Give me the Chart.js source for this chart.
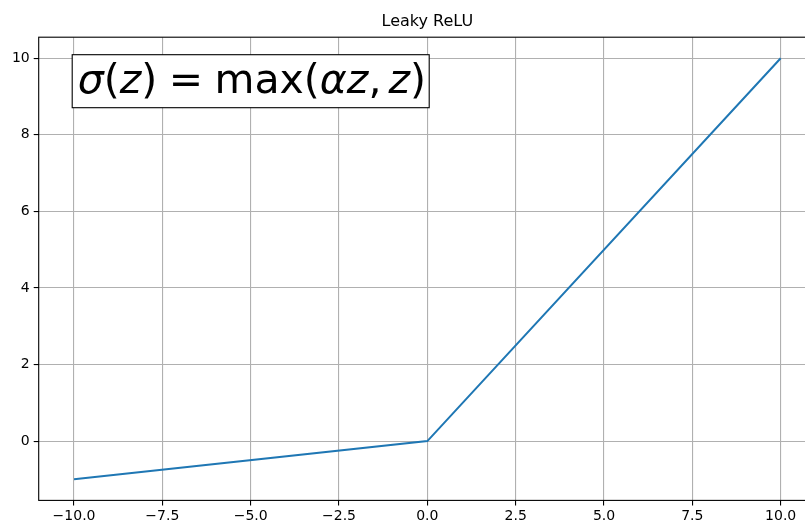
<!DOCTYPE html>
<html>
<head>
<meta charset="utf-8">
<script src="https://cdn.jsdelivr.net/npm/chart.js@4"></script>
<style>
  html,body{margin:0;padding:0;background:#fff;overflow:hidden;}
  #wrap{position:absolute;left:0;top:0;width:816px;height:523px;}
</style>
</head>
<body>
<div id="wrap"><canvas id="c" width="816" height="523"></canvas></div>
<script>
// data (alpha = 0.1)
const zValues = [-10, 0, 10];
const sigmaValues = [-1, 0, 10];
const xTicks = [-10, -7.5, -5, -2.5, 0, 2.5, 5, 7.5, 10];
const yTicks = [0, 2, 4, 6, 8, 10];
const xRange = [-11, 11];
const yRange = [-1.55, 10.55];
const titleText = 'Leaky ReLU';

const FONT = '"DejaVu Sans", sans-serif';
const minus = s => s.replace('-', '\u2212');

// formula label in a white box, like the matplotlib text bbox
const formulaParts = [
  {t:'σ', it:true}, {t:'('}, {t:'z', it:true}, {t:')'}, {gap:0.28},
  {t:'='}, {gap:0.28}, {t:'max'}, {t:'('}, {t:'α', it:true}, {t:'z', it:true},
  {t:','}, {gap:0.17}, {t:'z', it:true}, {t:')'}
];
const formulaBox = {
  id:'formulaBox',
  afterDraw(chart){
    const {ctx, chartArea} = chart;
    const size = 41;
    const x0 = chartArea.left + 33.5, y0 = chartArea.top + 17.5;
    const w = 357, h = 53;
    ctx.save();
    ctx.fillStyle = '#fff';
    ctx.fillRect(x0, y0, w, h);
    ctx.strokeStyle = '#000';
    ctx.lineWidth = 1.1;
    ctx.strokeRect(x0, y0, w, h);
    ctx.fillStyle = '#000';
    ctx.textBaseline = 'alphabetic';
    let x = x0 + 5.5;
    const base = y0 + 38;
    formulaParts.forEach(p => {
      if (p.gap){ x += p.gap * size; return; }
      ctx.font = (p.it ? 'oblique ' : '') + size + 'px ' + FONT;
      ctx.fillText(p.t, x, base);
      x += ctx.measureText(p.t).width;
    });
    ctx.restore();
  }
};

const frame = {
  id:'frame',
  afterDatasetsDraw(chart){
    const {ctx, chartArea:a} = chart;
    ctx.save();
    ctx.strokeStyle = '#000';
    ctx.lineWidth = 1.1;
    ctx.strokeRect(a.left, a.top, a.right - a.left, a.bottom - a.top);
    ctx.restore();
  }
};

new Chart(document.getElementById('c'), {
  type:'scatter',
  data:{ datasets:[{
    data: zValues.map((z,i)=>({x:z, y:sigmaValues[i]})),
    showLine:true, borderColor:'#1f77b4', borderWidth:2, pointRadius:0, tension:0
  }]},
  options:{
    responsive:false, animation:false,
    layout:{padding:{left:0, right:0, top:0, bottom:0}},
    plugins:{
      legend:{display:false}, tooltip:{enabled:false},
      title:{display:true, text:titleText, fullSize:false, color:'#000',
        font:{family:FONT, size:16, weight:'normal'}, padding:{top:12, bottom:6}}
    },
    scales:{
      x:{type:'linear', min:xRange[0], max:xRange[1],
        afterBuildTicks: s => { s.ticks = xTicks.map(v=>({value:v})); },
        afterFit: s => { s.height = 22.6; },
        grid:{color:'#b0b0b0', lineWidth:1.1, tickColor:'#000', tickLength:5, tickWidth:1.1},
        border:{display:false},
        ticks:{color:'#000', padding:3, maxRotation:0, autoSkip:false,
          font:{family:FONT, size:14}, callback: v => minus(v.toFixed(1))}
      },
      y:{type:'linear', min:yRange[0], max:yRange[1],
        afterBuildTicks: s => { s.ticks = yTicks.map(v=>({value:v})); },
        afterFit: s => { s.width = 38.7; },
        grid:{color:'#b0b0b0', lineWidth:1.1, tickColor:'#000', tickLength:5, tickWidth:1.1},
        border:{display:false},
        ticks:{color:'#000', padding:4, autoSkip:false,
          font:{family:FONT, size:14}, callback: v => minus(String(v))}
      }
    }
  },
  plugins:[frame, formulaBox]
});
</script>
</body>
</html>
